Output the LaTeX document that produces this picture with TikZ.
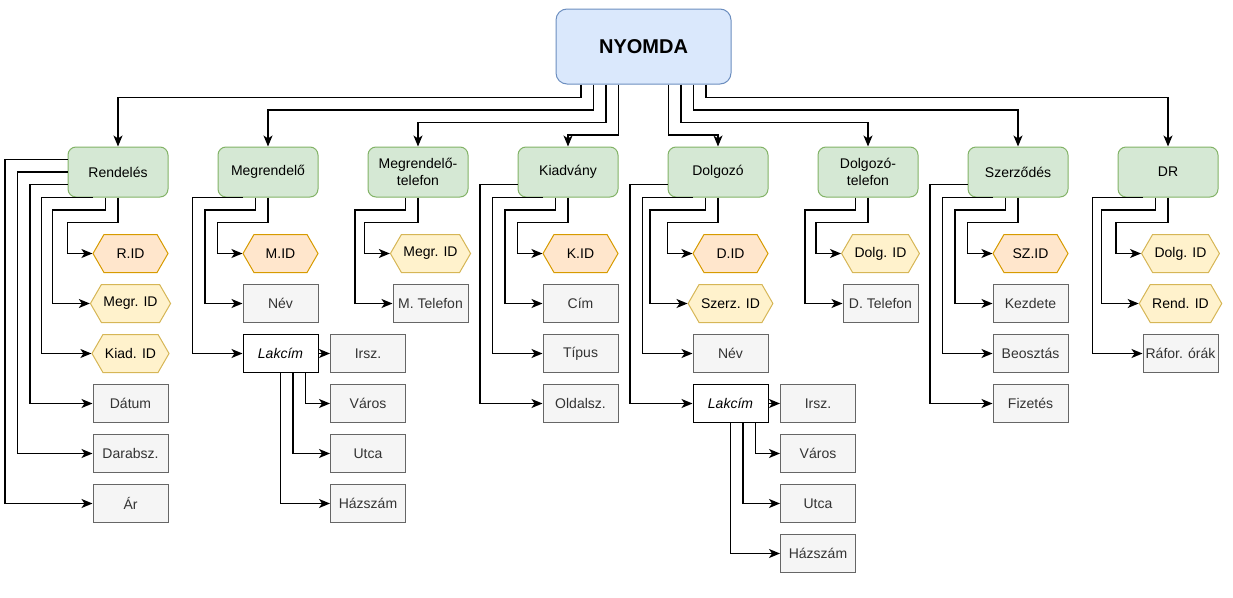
\documentclass[tikz,border=0pt]{standalone}
\usepackage{fontspec}
\setmainfont{Liberation Sans}
\usetikzlibrary{shapes.symbols,arrows.meta}
\definecolor{topfill}{HTML}{DAE8FC}
\definecolor{topline}{HTML}{6C8EBF}
\definecolor{entfill}{HTML}{D5E8D4}
\definecolor{entline}{HTML}{82B366}
\definecolor{pkfill}{HTML}{FFE6CC}
\definecolor{pkline}{HTML}{D79B00}
\definecolor{fkfill}{HTML}{FFF2CC}
\definecolor{fkline}{HTML}{D6B656}
\definecolor{attfill}{HTML}{F5F5F5}
\definecolor{attline}{HTML}{666666}
\definecolor{atttext}{HTML}{333333}
\begin{document}
\begin{tikzpicture}[x=1pt,y=-1pt,line width=1.2pt,
  >={Stealth[length=11pt,width=9pt,inset=3pt]},
  every node/.style={font=\fontsize{14}{17}\selectfont,inner sep=2pt,line width=1pt},
  title/.style={draw=topline,fill=topfill,rounded corners=11pt,minimum width=175pt,minimum height=75pt,font=\fontsize{20}{24}\selectfont\bfseries},
  entity/.style={draw=entline,fill=entfill,rounded corners=8pt,minimum width=100pt,minimum height=50pt,align=center},
  attr/.style={draw=attline,fill=attfill,text=atttext,minimum width=75pt,minimum height=38pt},
  key/.style={signal,signal to=west and east,signal pointer angle=120,minimum width=75pt,minimum height=38pt},
  pkey/.style={key,draw=pkline,fill=pkfill},
  fkey/.style={key,draw=fkline,fill=fkfill},
  multi/.style={draw=black,fill=white,minimum width=75pt,minimum height=38pt,font=\fontsize{14}{17}\selectfont\itshape}]
\useasboundingbox (0,0) rectangle (1233,597);
\node[title] (nyomda) at (643.5,46.5) {NYOMDA};
\node[entity] (rend) at (118,172) {Rendelés};
\node[entity] (megr) at (268,172) {Megrendelő};
\node[entity] (mtel) at (418,172) {Megrendelő-\\telefon};
\node[entity] (kiad) at (568,172) {Kiadvány};
\node[entity] (dolg) at (718,172) {Dolgozó};
\node[entity] (dtel) at (868,172) {Dolgozó-\\telefon};
\node[entity] (szerz) at (1018,172) {Szerződés};
\node[entity] (dr) at (1168,172) {DR};
% Rendeles
\node[pkey] (rid) at (130.5,253.5) {R.ID};
\node[fkey] (rmegrid) at (130.5,303.5) {Megr. ID};
\node[fkey] (rkiadid) at (130.5,353.5) {Kiad. ID};
\node[attr] (rdatum) at (130.5,403.5) {Dátum};
\node[attr] (rdarab) at (130.5,453.5) {Darabsz.};
\node[attr] (rar) at (130.5,503.5) {Ár};
% Megrendelo
\node[pkey] (mid) at (280.5,253.5) {M.ID};
\node[attr] (mnev) at (280.5,303.5) {Név};
\node[multi] (mlak) at (280.5,353.5) {Lakcím};
\node[attr] (mirsz) at (368,353.5) {Irsz.};
\node[attr] (mvaros) at (368,403.5) {Város};
\node[attr] (mutca) at (368,453.5) {Utca};
\node[attr] (mhaz) at (368,503.5) {Házszám};
% Megrendelo-telefon
\node[fkey] (tmegrid) at (430.5,253.5) {Megr. ID};
\node[attr] (ttel) at (430.5,303.5) {M. Telefon};
% Kiadvany
\node[pkey] (kid) at (580.5,253.5) {K.ID};
\node[attr] (kcim) at (580.5,303.5) {Cím};
\node[attr] (ktipus) at (580.5,353.5) {Típus};
\node[attr] (koldal) at (580.5,403.5) {Oldalsz.};
% Dolgozo
\node[pkey] (did) at (730.5,253.5) {D.ID};
\node[fkey] (dszerzid) at (730.5,303.5) {Szerz. ID};
\node[attr] (dnev) at (730.5,353.5) {Név};
\node[multi] (dlak) at (730.5,403.5) {Lakcím};
\node[attr] (dirsz) at (818,403.5) {Irsz.};
\node[attr] (dvaros) at (818,453.5) {Város};
\node[attr] (dutca) at (818,503.5) {Utca};
\node[attr] (dhaz) at (818,553.5) {Házszám};
% Dolgozo-telefon
\node[fkey] (tdolgid) at (880.5,253.5) {Dolg. ID};
\node[attr] (tdtel) at (880.5,303.5) {D. Telefon};
% Szerzodes
\node[pkey] (szid) at (1030.5,253.5) {SZ.ID};
\node[attr] (szkezd) at (1030.5,303.5) {Kezdete};
\node[attr] (szbeo) at (1030.5,353.5) {Beosztás};
\node[attr] (szfiz) at (1030.5,403.5) {Fizetés};
% DR
\node[fkey] (drdolgid) at (1180.5,253.5) {Dolg. ID};
\node[fkey] (drrendid) at (1180.5,303.5) {Rend. ID};
\node[attr] (drrafor) at (1180.5,353.5) {Ráfor. órák};
% NYOMDA -> tables
\draw[->] ([xshift=-62.5pt]nyomda.south) -- ++(0,13) -| (rend.north);
\draw[->] ([xshift=-50pt]nyomda.south) -- ++(0,25.5) -| (megr.north);
\draw[->] ([xshift=-37.5pt]nyomda.south) -- ++(0,38) -| (mtel.north);
\draw[->] ([xshift=-25pt]nyomda.south) -- ++(0,50.5) -| (kiad.north);
\draw[->] ([xshift=25pt]nyomda.south) -- ++(0,50.5) -| (dolg.north);
\draw[->] ([xshift=37.5pt]nyomda.south) -- ++(0,38) -| (dtel.north);
\draw[->] ([xshift=50pt]nyomda.south) -- ++(0,25.5) -| (szerz.north);
\draw[->] ([xshift=62.5pt]nyomda.south) -- ++(0,13) -| (dr.north);
% Rendeles
\draw[->] (rend.south) -- ++(0,25) -| ([xshift=-25pt]rid.west) -- (rid.west);
\draw[->] ([xshift=-12.5pt]rend.south) -- ++(0,12.5) -| ([xshift=-37.5pt]rmegrid.west) -- (rmegrid.west);
\draw[->] ([xshift=-25pt]rend.south) -| ([xshift=-50pt]rkiadid.west) -- (rkiadid.west);
\draw[->] ([yshift=-12.5pt]rend.west) -| ([xshift=-62.5pt]rdatum.west) -- (rdatum.west);
\draw[->] (rend.west) -| ([xshift=-75pt]rdarab.west) -- (rdarab.west);
\draw[->] ([yshift=12.5pt]rend.west) -| ([xshift=-87.5pt]rar.west) -- (rar.west);
% Megrendelo
\draw[->] (megr.south) -- ++(0,25) -| ([xshift=-25pt]mid.west) -- (mid.west);
\draw[->] ([xshift=-12.5pt]megr.south) -- ++(0,12.5) -| ([xshift=-37.5pt]mnev.west) -- (mnev.west);
\draw[->] ([xshift=-25pt]megr.south) -| ([xshift=-50pt]mlak.west) -- (mlak.west);
\draw[->] (mlak.east) -- (mirsz.west);
\draw[->] ([xshift=25pt]mlak.south) |- (mvaros.west);
\draw[->] ([xshift=12.5pt]mlak.south) |- (mutca.west);
\draw[->] (mlak.south) |- (mhaz.west);
% Megrendelo-telefon
\draw[->] (mtel.south) -- ++(0,25) -| ([xshift=-25pt]tmegrid.west) -- (tmegrid.west);
\draw[->] ([xshift=-12.5pt]mtel.south) -- ++(0,12.5) -| ([xshift=-37.5pt]ttel.west) -- (ttel.west);
% Kiadvany
\draw[->] (kiad.south) -- ++(0,25) -| ([xshift=-25pt]kid.west) -- (kid.west);
\draw[->] ([xshift=-12.5pt]kiad.south) -- ++(0,12.5) -| ([xshift=-37.5pt]kcim.west) -- (kcim.west);
\draw[->] ([xshift=-25pt]kiad.south) -| ([xshift=-50pt]ktipus.west) -- (ktipus.west);
\draw[->] ([yshift=-12.5pt]kiad.west) -| ([xshift=-62.5pt]koldal.west) -- (koldal.west);
% Dolgozo
\draw[->] (dolg.south) -- ++(0,25) -| ([xshift=-25pt]did.west) -- (did.west);
\draw[->] ([xshift=-12.5pt]dolg.south) -- ++(0,12.5) -| ([xshift=-37.5pt]dszerzid.west) -- (dszerzid.west);
\draw[->] ([xshift=-25pt]dolg.south) -| ([xshift=-50pt]dnev.west) -- (dnev.west);
\draw[->] ([yshift=-12.5pt]dolg.west) -| ([xshift=-62.5pt]dlak.west) -- (dlak.west);
\draw[->] (dlak.east) -- (dirsz.west);
\draw[->] ([xshift=25pt]dlak.south) |- (dvaros.west);
\draw[->] ([xshift=12.5pt]dlak.south) |- (dutca.west);
\draw[->] (dlak.south) |- (dhaz.west);
% Dolgozo-telefon
\draw[->] (dtel.south) -- ++(0,25) -| ([xshift=-25pt]tdolgid.west) -- (tdolgid.west);
\draw[->] ([xshift=-12.5pt]dtel.south) -- ++(0,12.5) -| ([xshift=-37.5pt]tdtel.west) -- (tdtel.west);
% Szerzodes
\draw[->] (szerz.south) -- ++(0,25) -| ([xshift=-25pt]szid.west) -- (szid.west);
\draw[->] ([xshift=-12.5pt]szerz.south) -- ++(0,12.5) -| ([xshift=-37.5pt]szkezd.west) -- (szkezd.west);
\draw[->] ([xshift=-25pt]szerz.south) -| ([xshift=-50pt]szbeo.west) -- (szbeo.west);
\draw[->] ([yshift=-12.5pt]szerz.west) -| ([xshift=-62.5pt]szfiz.west) -- (szfiz.west);
% DR
\draw[->] (dr.south) -- ++(0,25) -| ([xshift=-25pt]drdolgid.west) -- (drdolgid.west);
\draw[->] ([xshift=-12.5pt]dr.south) -- ++(0,12.5) -| ([xshift=-37.5pt]drrendid.west) -- (drrendid.west);
\draw[->] ([xshift=-25pt]dr.south) -| ([xshift=-50pt]drrafor.west) -- (drrafor.west);
\end{tikzpicture}
\end{document}
